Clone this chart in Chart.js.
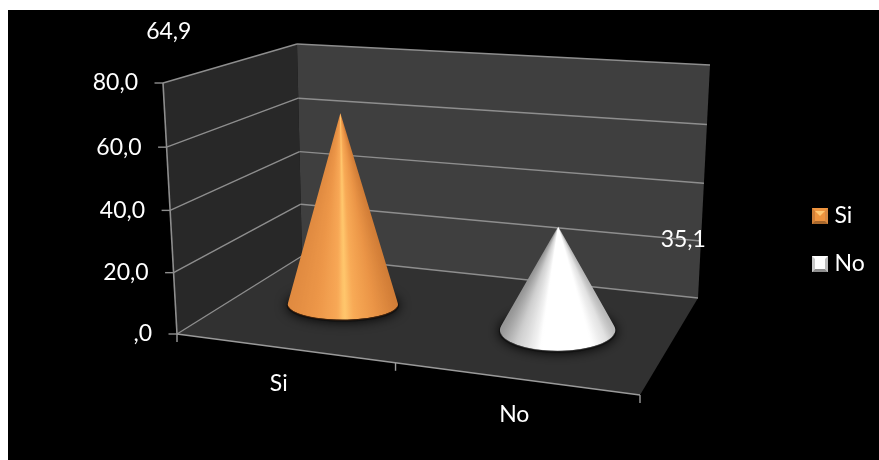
<!DOCTYPE html>
<html><head><meta charset="utf-8">
<style>html,body{margin:0;padding:0;background:#fff}#w{position:absolute;left:0;top:0;width:879px;height:460px}</style>
<script src="https://cdn.jsdelivr.net/npm/chart.js@4"></script>
</head><body><div id="w"><canvas id="c" width="879" height="460"></canvas></div>
<script>
const categories = ['Si', 'No'];
const values = [64.9, 35.1];
const colours = ['#f0953f', '#ffffff'];
const yTicks = [0, 20, 40, 60, 80];

const FONT = '23px Lato';
const fmt = v => v.toFixed(1).replace('.', ',').replace(/^0,/, ',');

// room geometry (perspective frame of the 3D chart)
const FL = [177, 334], FR = [640, 395], BL = [302, 256], BR = [698, 298];
const FLT = [163, 83], BLT = [297, 44], BRT = [710, 65];
const lerp = (a, b, t) => [a[0] + (b[0] - a[0]) * t, a[1] + (b[1] - a[1]) * t];
const warp = t => t - 0.03 * t * (1 - t);

function poly(ctx, pts, fill) {
  ctx.beginPath();
  pts.forEach((p, i) => i ? ctx.lineTo(p[0], p[1]) : ctx.moveTo(p[0], p[1]));
  ctx.closePath(); ctx.fillStyle = fill; ctx.fill();
}
function line(ctx, a, b, col, w) {
  ctx.beginPath(); ctx.moveTo(a[0], a[1]); ctx.lineTo(b[0], b[1]);
  ctx.strokeStyle = col; ctx.lineWidth = w; ctx.stroke();
}
const shades = [
  [[-1, [224, 138, 64]], [-0.5, [236, 150, 72]], [-0.1, [248, 168, 86]], [0.03, [255, 200, 110]], [0.2, [248, 170, 86]], [0.6, [234, 148, 70]], [1, [208, 124, 54]]],
  [[-1, [150, 150, 150]], [-0.72, [205, 205, 205]], [-0.42, [238, 238, 238]], [-0.3, [255, 255, 255]], [0.6, [255, 255, 255]], [0.85, [225, 225, 225]], [1, [185, 185, 185]]]
];
function shade(stops, s) {
  for (let i = 1; i < stops.length; i++) {
    if (s <= stops[i][0]) {
      const [a, ca] = stops[i - 1], [b, cb] = stops[i], k = (s - a) / (b - a);
      return 'rgb(' + ca.map((c, j) => Math.round(c + (cb[j] - c) * k)).join(',') + ')';
    }
  }
  return 'rgb(' + stops[stops.length - 1][1].join(',') + ')';
}
function drawCone(ctx, i, bar, y) {
  const u = (bar.x - FL[0]) / (FR[0] - FL[0]);
  const front = lerp(FL, FR, u), back = lerp(BL, BR, u), c = lerp(front, back, 0.5);
  const cx = c[0] - 4, cy = c[1] - 3.5;
  const rx = bar.width / 2 * (0.93 + 0.09 * u), ry = rx * (0.24 + 0.16 * u);
  const H = (y.getPixelForValue(0) - bar.y) * 0.94;
  const tip = [cx - 4 + 6 * u, cy - H];
  // contact shadow
  ctx.save();
  ctx.shadowColor = 'rgba(0,0,0,0.95)'; ctx.shadowBlur = 12;
  ctx.fillStyle = '#111';
  ctx.beginPath(); ctx.ellipse(cx, cy + 1, rx + 1, ry + 1, 0, 0, Math.PI * 2); ctx.fill();
  ctx.restore();
  // surface shaded by angle around the tip
  const e = Math.asin(Math.min(0.9, ry / H));
  const th0 = -e, th1 = Math.PI + e, N = 80;
  const g = ctx.createConicGradient(0, tip[0], tip[1]);
  for (let k = 0; k <= N; k++) {
    const th = th0 + (th1 - th0) * k / N;
    const ang = Math.atan2(cy + ry * Math.sin(th) - tip[1], cx + rx * Math.cos(th) - tip[0]);
    g.addColorStop(Math.max(0, Math.min(1, ang / (2 * Math.PI))), shade(shades[i], Math.cos(th)));
  }
  ctx.beginPath();
  ctx.moveTo(tip[0], tip[1]);
  ctx.lineTo(cx + rx * Math.cos(th0), cy + ry * Math.sin(th0));
  ctx.ellipse(cx, cy, rx, ry, 0, th0, th1);
  ctx.closePath();
  ctx.fillStyle = g; ctx.fill();
  // lower rim
  ctx.beginPath(); ctx.ellipse(cx, cy + 0.3, rx, ry, 0, 0.12, Math.PI - 0.12);
  ctx.strokeStyle = i === 0 ? 'rgba(70,35,10,0.85)' : 'rgba(70,70,70,0.6)'; ctx.lineWidth = 1; ctx.stroke();
}

function icon(i) {
  const n = document.createElement('canvas'); n.width = 16; n.height = 16;
  const g = n.getContext('2d');
  const p = i === 0
    ? { l: '#cf7f38', t: '#ffc873', r: '#d98a42', b: '#a9682c', m: '#f0953f' }
    : { l: '#c9c9c9', t: '#efefef', r: '#bdbdbd', b: '#8e8e8e', m: '#ffffff' };
  poly(g, [[0, 0], [16, 0], [16, 16], [0, 16]], p.m);
  poly(g, [[0, 0], [16, 0], [13, 3], [3, 3]], p.m);
  poly(g, [[0, 0], [3, 3], [3, 13], [0, 16]], p.l);
  poly(g, [[16, 0], [13, 3], [13, 13], [16, 16]], p.r);
  poly(g, [[0, 16], [3, 13], [13, 13], [16, 16]], p.b);
  poly(g, i === 0 ? [[3, 3], [13, 3], [8, 8]] : [[3, 3], [13, 3], [13, 13], [3, 13]], i === 0 ? p.t : '#ffffff');
  return n;
}

const room = {
  id: 'room',
  afterLayout(chart) {
    const x = chart.scales.x, y = chart.scales.y, a = chart.chartArea;
    x.left = a.left = FL[0]; x.right = a.right = FR[0]; x.width = a.width = FR[0] - FL[0];
    y.top = a.top = FLT[1]; y.bottom = a.bottom = FL[1]; y.height = a.height = FL[1] - FLT[1];
    x.configure(); y.configure();
    const l = chart.legend;
    l.left = 792; l.right = 879; l.width = 87; l.top = 160; l.bottom = 320; l.height = 160;
  },
  beforeDraw(chart) {
    const c = chart.ctx;
    c.fillStyle = '#000'; c.fillRect(8, 10, 871, 450);
  },
  beforeDatasetsDraw(chart) {
    const c = chart.ctx, y = chart.scales.y, x = chart.scales.x;
    const meta = chart.getDatasetMeta(0);
    // walls and floor
    poly(c, [FLT, BLT, BL, FL], '#282828');
    poly(c, [BLT, BRT, BR, BL], '#3f3f3f');
    poly(c, [FL, BL, BR, FR], '#313131');
    const lc = '#8e8e8e';
    // value gridlines, tick marks and tick labels from the y scale
    c.font = FONT; c.textAlign = 'right'; c.textBaseline = 'middle';
    y.ticks.forEach(tk => {
      const t = warp((y.bottom - y.getPixelForValue(tk.value)) / (y.bottom - y.top));
      const f = lerp(FL, FLT, t), b = lerp(BL, BLT, t), r = lerp(BR, BRT, t);
      line(c, f, b, lc, 1.4);
      line(c, b, r, lc, 1.4);
      line(c, [f[0] - 8.5, f[1]], f, lc, 1.4);
      c.fillStyle = '#fff';
      c.fillText(fmt(tk.value), f[0] - 25, f[1]);
    });
    line(c, FLT, FL, '#8e8e8e', 1.6);
    // front axis, ticks and category labels from the x scale
    line(c, FL, FR, '#9a9a9a', 1.4);
    [0, 0.472, 1].forEach(u => {
      const p = lerp(FL, FR, u);
      line(c, p, [p[0], p[1] + 8], '#9a9a9a', 1.4);
    });
    c.textAlign = 'center';
    categories.forEach((name, i) => {
      const px = x.getPixelForValue(i), u = (px - FL[0]) / (FR[0] - FL[0]);
      const p = lerp(FL, FR, u);
      c.fillStyle = '#fff';
      c.fillText(name, px - 16 + 8 * u, p[1] + 34.5);
    });
    // cones
    meta.data.forEach((bar, i) => drawCone(c, i, bar, y));
    // data labels, where the original left them
    c.fillStyle = '#fff';
    const off = [[-124, -99], [159, 16]];
    meta.data.forEach((bar, i) => {
      c.fillText(fmt(values[i]), bar.x + off[i][0], bar.y + off[i][1]);
    });
    return false;
  }
};

new Chart(document.getElementById('c'), {
  type: 'bar',
  data: {
    labels: categories,
    datasets: [{ label: 'Porcentaje', data: values, backgroundColor: colours, barPercentage: 1, categoryPercentage: 0.5 }]
  },
  plugins: [room],
  options: {
    responsive: false,
    animation: false,
    layout: { padding: { left: 177, top: 83, right: 100, bottom: 126 } },
    scales: {
      x: { display: true, offset: true, grid: { display: false }, border: { display: false }, ticks: { display: false } },
      y: { display: true, min: 0, max: 80, grid: { display: false }, border: { display: false },
           afterBuildTicks: s => { s.ticks = yTicks.map(v => ({ value: v })); },
           ticks: { display: false } }
    },
    plugins: {
      tooltip: { enabled: false },
      legend: {
        display: true, position: 'right',
        labels: {
          color: '#fff', font: { family: 'Lato', size: 23 }, usePointStyle: true, boxWidth: 16, boxHeight: 16, pointStyleWidth: 6, padding: 25,
          generateLabels: () => categories.map((t, i) => ({ text: t, pointStyle: icon(i), fontColor: '#fff', lineWidth: 0, index: i }))
        }
      }
    }
  }
});
</script></body></html>
